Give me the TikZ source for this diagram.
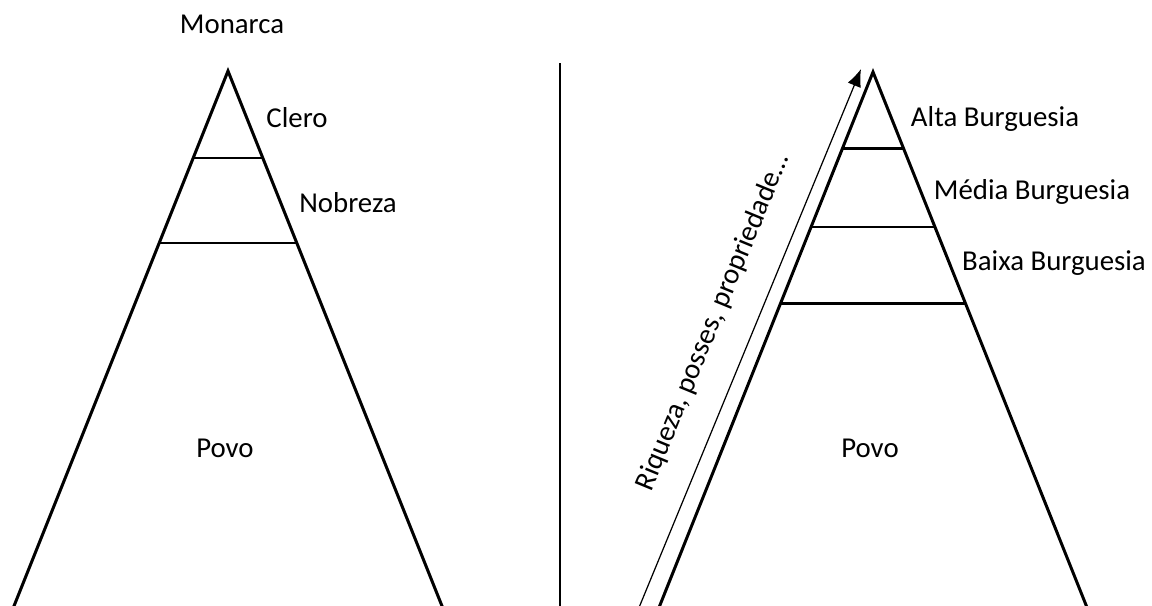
\documentclass[tikz,border=0pt]{standalone}
\usepackage{fontspec}
\setmainfont{Carlito}
\usetikzlibrary{calc,arrows.meta}

\begin{document}
\begin{tikzpicture}[x=0.02cm,y=-0.02cm,line width=1.7pt,
  classe/.style={anchor=base,inner sep=0pt,font=\fontsize{16.4}{20}\selectfont}]
  \useasboundingbox (0,0) rectangle (1152,605);

  % 左边金字塔：顶点与两条边
  \coordinate (T1) at (228,71);
  \coordinate (L1) at (12.4,610);
  \coordinate (R1) at (443.6,610);
  \draw[line join=miter] (L1) -- (T1) -- (R1);
  % 分层线
  \draw ($(T1)!0.1614!(L1)$) -- ($(T1)!0.1614!(R1)$);
  \draw ($(T1)!0.3191!(L1)$) -- ($(T1)!0.3191!(R1)$);
  % 各阶层
  \node[classe] (monarca) at (232,33) {Monarca};
  \node[classe] (clero) at (297,127) {Clero};
  \node[classe] (nobreza) at (348,212) {Nobreza};
  \node[classe] (povo1) at (225,457) {Povo};

  % 中间分隔线
  \coordinate (S0) at (560,63);
  \coordinate (S1) at (560,610);
  \draw[line width=1pt] (S0) -- (S1);

  % 右边金字塔：顶点与两条边
  \coordinate (T2) at (873,72);
  \coordinate (L2) at (658,610);
  \coordinate (R2) at (1088,610);
  \draw[line join=miter] (L2) -- (T2) -- (R2);
  % 分层线
  \draw ($(T2)!0.1431!(L2)$) -- ($(T2)!0.1431!(R2)$);
  \draw ($(T2)!0.2881!(L2)$) -- ($(T2)!0.2881!(R2)$);
  \draw ($(T2)!0.4312!(L2)$) -- ($(T2)!0.4312!(R2)$);
  % 各阶层
  \node[classe] (alta) at (995,126) {Alta Burguesia};
  \node[classe] (media) at (1032,199) {Média Burguesia};
  \node[classe] (baixa) at (1054,270) {Baixa Burguesia};
  \node[classe] (povo2) at (870,457) {Povo};

  % 箭头与斜写文字
  \coordinate (A0) at (638,610);
  \coordinate (A1) at (861,69);
  \draw[line width=0.7pt,-{Latex[length=10pt,width=8pt]}] (A0) -- (A1);
  \node[classe,rotate=67.6] (riqueza) at (720,325) {Riqueza, posses, propriedade…};
\end{tikzpicture}
\end{document}
